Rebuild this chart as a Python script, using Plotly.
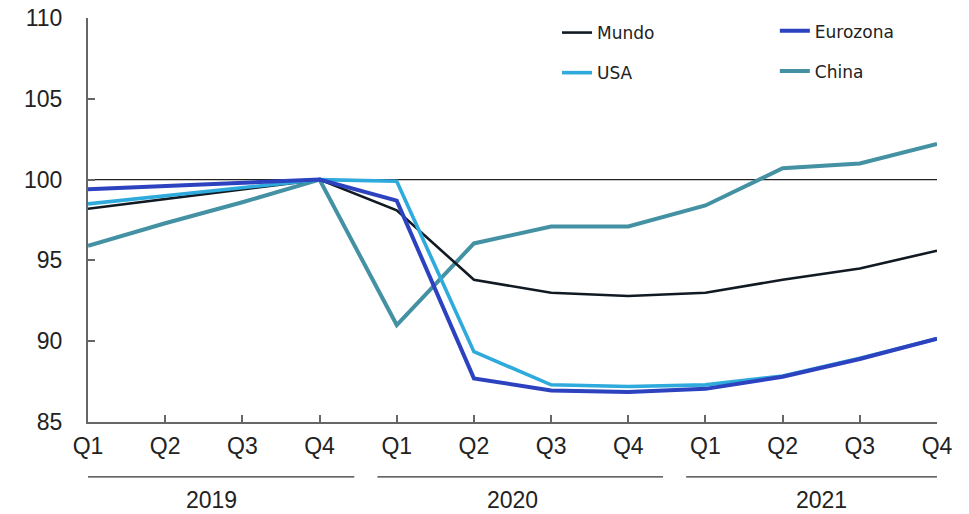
import plotly.graph_objects as go

quarters = ["Q1", "Q2", "Q3", "Q4"]
years = ["2019", "2020", "2021"]
tick_labels = quarters * len(years)

mundo = [98.2, 98.8, 99.4, 100.0, 98.1, 93.8, 93.0, 92.8, 93.0, 93.8, 94.5, 95.6]
eurozona = [99.4, 99.6, 99.8, 100.0, 98.7, 87.7, 86.95, 86.85, 87.05, 87.8, 88.9, 90.15]
usa = [98.5, 99.0, 99.5, 100.0, 99.9, 89.35, 87.3, 87.2, 87.3, 87.85, 88.95, 90.15]
china = [95.9, 97.3, 98.6, 100.0, 91.0, 96.05, 97.1, 97.1, 98.4, 100.7, 101.0, 102.2]

x = list(range(len(tick_labels)))

fig = go.Figure()

def add(name, y, color, width, legend, rank):
    fig.add_trace(go.Scatter(x=x, y=y, mode="lines", name=name,
                             line=dict(color=color, width=width),
                             legend=legend, legendgroup=name, legendrank=rank,
                             cliponaxis=False))

add("China", china, "#4391a3", 4, "legend2", 2)
add("Mundo", mundo, "#111a22", 2.6, "legend", 1)
add("USA", usa, "#2eaadc", 3.6, "legend", 2)
add("Eurozona", eurozona, "#2c42bf", 4, "legend2", 1)

# reference line at 100
fig.add_shape(type="line", xref="x", yref="y", x0=x[0], x1=x[-1], y0=100, y1=100,
              line=dict(color="#222222", width=1.2), layer="below")

tick_font = "Liberation Sans, Arial, sans-serif"
legend_font = dict(family="DejaVu Sans, Open Sans, sans-serif", size=17, color="#222222")

# year group lines and labels
n = len(quarters)
for i, yr in enumerate(years):
    start = i * n - (0 if i == 0 else 0.25)
    end = i * n + n - 1 + (0.45 if i < len(years) - 1 else 0)
    fig.add_shape(type="line", xref="x", yref="paper", x0=start, x1=end,
                  y0=-0.136, y1=-0.136, line=dict(color="#333333", width=1.3))
    fig.add_annotation(x=i * n + (n - 1) / 2 + (0.1 if i == 0 else 0), y=-0.193,
                       xref="x", yref="paper", text=yr, showarrow=False,
                       yanchor="middle",
                       font=dict(family=tick_font, size=23, color="#222222"))

fig.update_layout(
    width=969, height=514,
    margin=dict(l=88, r=32, t=18, b=92, autoexpand=False),
    paper_bgcolor="white", plot_bgcolor="white",
    showlegend=True,
    legend=dict(x=0.5524, y=1.0074, xanchor="left", yanchor="top",
                font=legend_font, bgcolor="rgba(0,0,0,0)",
                itemwidth=30, tracegroupgap=15),
    legend2=dict(x=0.809, y=1.0116, xanchor="left", yanchor="top",
                 font=legend_font, bgcolor="rgba(0,0,0,0)",
                 itemwidth=30, tracegroupgap=15),
    xaxis=dict(range=[x[0], x[-1]], tickmode="array", tickvals=x, ticktext=tick_labels,
               showline=True, linecolor="#666666", linewidth=2,
               ticks="inside", ticklen=7, tickcolor="#666666", tickwidth=1.5,
               showgrid=False, zeroline=False, ticklabelstandoff=2,
               tickfont=dict(family=tick_font, size=23, color="#222222")),
    yaxis=dict(range=[85, 110], tickvals=[85, 90, 95, 100, 105, 110],
               showline=True, linecolor="#666666", linewidth=2,
               ticks="inside", ticklen=7, tickcolor="#666666", tickwidth=1.5,
               showgrid=False, zeroline=False, ticklabelstandoff=19,
               tickfont=dict(family=tick_font, size=23, color="#222222")),
)

fig.write_html("out.html", config={"displayModeBar": False},
               post_script="document.body.style.margin='0';")
